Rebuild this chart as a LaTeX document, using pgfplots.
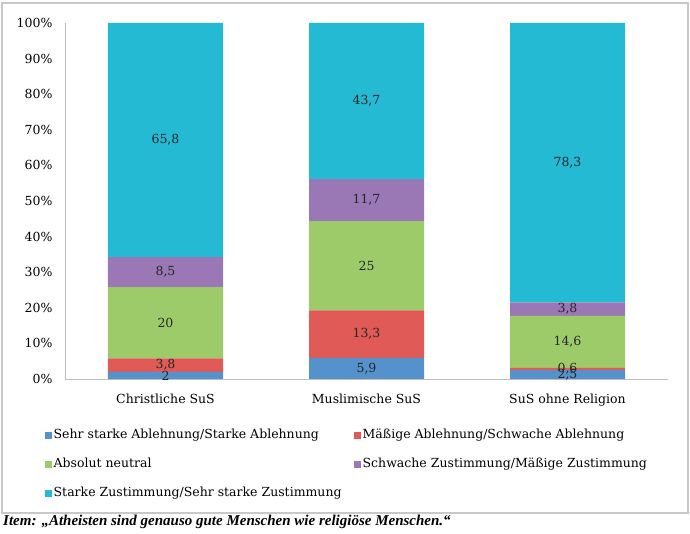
\documentclass[border=0pt]{standalone}
\usepackage{fontspec}
\setmainfont{DejaVu Serif}
\newfontfamily\capfont{Liberation Serif}
\usepackage{pgfplots}
\pgfplotsset{compat=1.18}
\usepackage{pgfplotstable}
\definecolor{cBlue}{RGB}{85,145,203}
\definecolor{cRed}{RGB}{224,91,87}
\definecolor{cGreen}{RGB}{158,203,106}
\definecolor{cPurple}{RGB}{154,120,181}
\definecolor{cCyan}{RGB}{37,186,211}
\definecolor{cFrame}{RGB}{200,200,200}
\definecolor{cAxis}{RGB}{190,190,190}
% raw values (percent), t = row total
\pgfplotstableread{
x a b c d e t
0 2.0 3.8 20.0 8.5 65.8 100.1
1 5.9 13.3 25.0 11.7 43.7 99.6
2 2.5 0.6 14.6 3.8 78.3 99.8
}\datatab
% label positions (segment centres) and texts
\pgfplotstableread{
x y l
0 1.00 2
0 3.90 3,8
0 15.78 20
0 30.02 8,5
0 67.13 65,8
1 2.96 5,9
1 12.60 13,3
1 31.83 25
1 50.25 11,7
1 78.06 43,7
2 1.25 2,5
2 2.81 0,6
2 10.42 14,6
2 19.64 3,8
2 60.77 78,3
}\labtab
\pgfplotsset{base/.style={
  at={(0pt,0pt)}, anchor=south west,
  width=603pt, height=356pt, scale only axis,
  xmin=-0.5, xmax=2.5, ymin=0, ymax=100,
}}
\begin{document}
\begin{tikzpicture}[x=1pt,y=1pt]
\useasboundingbox (-65,-155) rectangle (625,379);
\draw[cFrame, line width=1.3pt] (-63,376) rectangle (623,-134);
\begin{axis}[base,
  ybar stacked, bar width=115pt,
  axis x line*=bottom, axis y line*=left,
  axis line style={cAxis, line width=0.8pt, -},
  major tick length=0pt,
  ytick={0,10,...,100},
  yticklabel={\pgfmathprintnumber{\tick}\%},
  yticklabel style={font=\fontsize{12.5}{14}\selectfont, xshift=-9pt},
  xtick={0,1,2},
  xticklabels={Christliche SuS, Muslimische SuS, SuS ohne Religion},
  xticklabel style={font=\fontsize{12.5}{14}\selectfont, yshift=-11pt},
  /pgf/number format/assume math mode=true,
  area legend,
  legend columns=2,
  legend cell align=left,
  legend image code/.code={\fill[#1] (0pt,-3.5pt) rectangle (7pt,3.5pt);},
  legend style={at={(-0.0332,-0.1348)}, anchor=north west, draw=none, fill=none,
    inner sep=0pt, column sep=0pt, row sep=13pt,
    font=\fontsize{12.5}{14}\selectfont,
    nodes={inner sep=1.5pt, anchor=west, text height=10pt, text depth=3pt}},
]
\addplot[fill=cBlue, draw=none] table[x=x, y expr=\thisrow{a}*100/\thisrow{t}] {\datatab};
\addlegendentry{\makebox[299pt][l]{Sehr starke Ablehnung/Starke Ablehnung}}
\addplot[fill=cRed, draw=none] table[x=x, y expr=\thisrow{b}*100/\thisrow{t}] {\datatab};
\addlegendentry{Mäßige Ablehnung/Schwache Ablehnung}
\addplot[fill=cGreen, draw=none] table[x=x, y expr=\thisrow{c}*100/\thisrow{t}] {\datatab};
\addlegendentry{\makebox[299pt][l]{Absolut neutral}}
\addplot[fill=cPurple, draw=none] table[x=x, y expr=\thisrow{d}*100/\thisrow{t}] {\datatab};
\addlegendentry{Schwache Zustimmung/Mäßige Zustimmung}
\addplot[fill=cCyan, draw=none] table[x=x, y expr=\thisrow{e}*100/\thisrow{t}] {\datatab};
\addlegendentry{\makebox[299pt][l]{Starke Zustimmung/Sehr starke Zustimmung}}
\end{axis}
\begin{axis}[base, hide axis]
\addplot[draw=none, mark=none, nodes near coords, point meta=explicit symbolic,
  nodes near coords align=center,
  every node near coord/.append style={font=\fontsize{12.5}{14}\selectfont, text=black!85, anchor=center}]
  table[x=x, y=y, meta=l] {\labtab};
\end{axis}
\node[anchor=base west, inner sep=0pt, font=\capfont\bfseries\itshape\fontsize{15}{17}\selectfont] at (-62,-147) {Item: „Atheisten sind genauso gute Menschen wie religiöse Menschen.“};
\end{tikzpicture}
\end{document}
